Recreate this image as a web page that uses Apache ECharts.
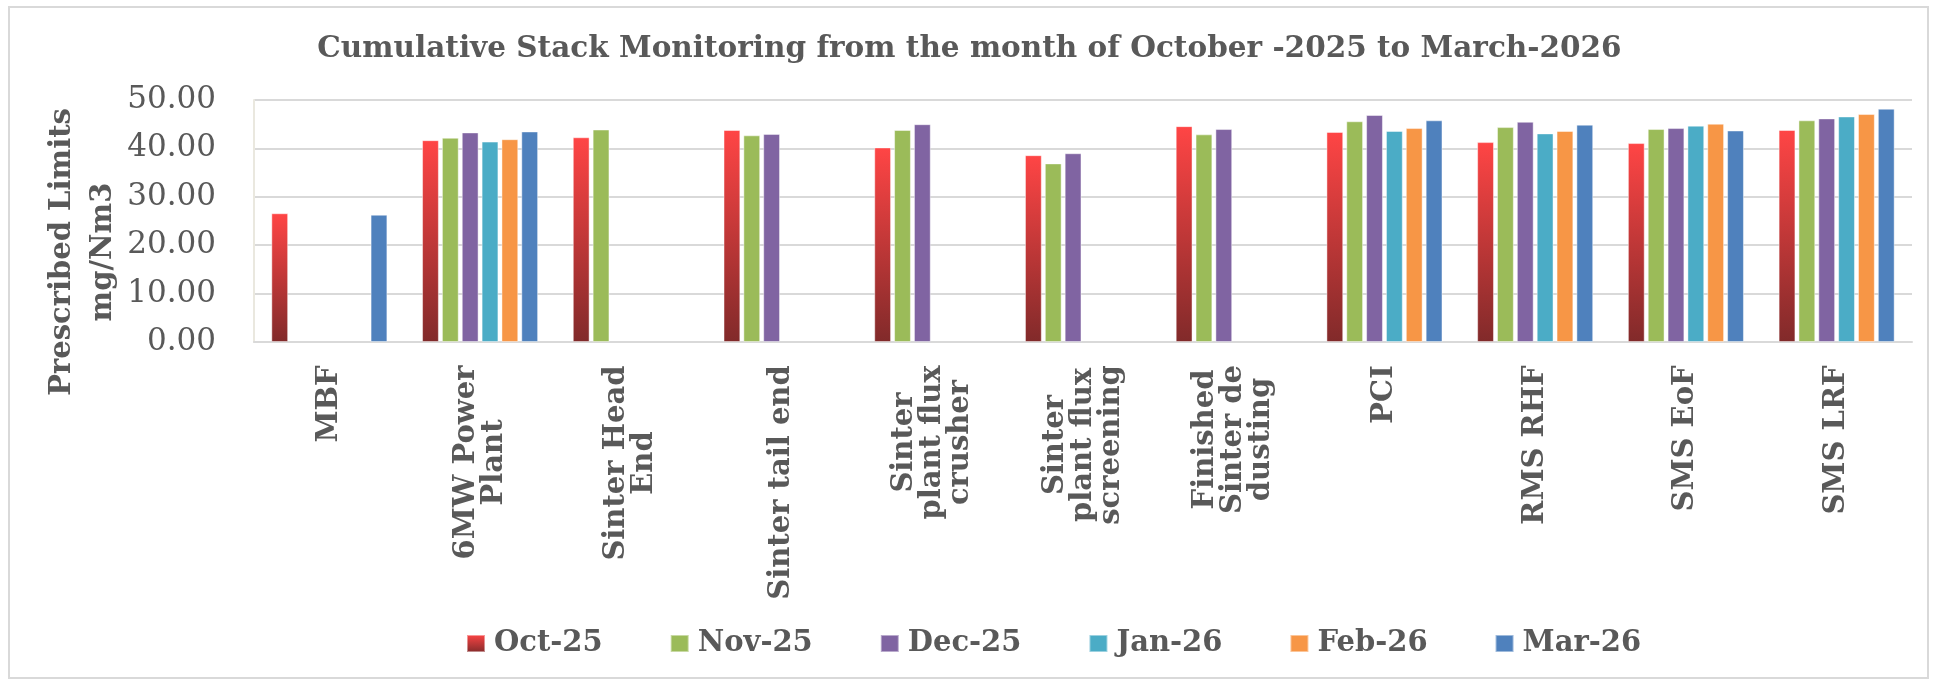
<!DOCTYPE html>
<html>
<head>
<meta charset="utf-8">
<script src="https://cdn.jsdelivr.net/npm/echarts@6/dist/echarts.min.js"></script>
<style>
html, body { margin: 0; padding: 0; background: #fff; }
#chart { width: 1939px; height: 683px; }
</style>
</head>
<body>
<div id="chart"></div>
<script>
var categories = ['MBF', '6MW Power Plant', 'Sinter Head End', 'Sinter tail end', 'Sinter plant flux crusher',
    'Sinter plant flux screening', 'Finished Sinter de dusting', 'PCI', 'RMS RHF', 'SMS EoF', 'SMS LRF']
// how the labels wrap on the axis
var categoryLabels = ['MBF', '6MW Power\nPlant', 'Sinter Head\nEnd', 'Sinter tail end', 'Sinter\nplant flux\ncrusher',
    'Sinter\nplant flux\nscreening', 'Finished\nSinter de\ndusting', 'PCI', 'RMS RHF', 'SMS EoF', 'SMS LRF']
var months = ['Oct-25', 'Nov-25', 'Dec-25', 'Jan-26', 'Feb-26', 'Mar-26']

var oct25 = [26.6, 41.7, 42.3, 43.8, 40.2, 38.6, 44.6, 43.4, 41.3, 41.1, 43.8]
var nov25 = [null, 42.2, 43.9, 42.7, 43.8, 36.9, 42.9, 45.6, 44.4, 44.0, 45.8]
var dec25 = [null, 43.3, null, 43.0, 45.0, 39.0, 44.0, 46.9, 45.5, 44.2, 46.2]
var jan26 = [null, 41.4, null, null, null, null, null, 43.6, 43.1, 44.7, 46.6]
var feb26 = [null, 41.9, null, null, null, null, null, 44.2, 43.6, 45.1, 47.1]
var mar26 = [26.3, 43.5, null, null, null, null, null, 45.8, 44.9, 43.7, 48.2]

var yTicks = { min: 0, max: 50, interval: 10 }

var txt = '#595959'
var serif = '"DejaVu Serif", "Liberation Serif", serif'
var xFont = 29

// centred lines inside each rotated label, like the original
var ctx = document.createElement('canvas').getContext('2d')
ctx.font = 'bold ' + xFont + 'px ' + serif
var rich = {}
categoryLabels.forEach(function(lab, i) {
    var w = 0
    lab.split('\n').forEach(function(l) { w = Math.max(w, ctx.measureText(l).width) })
    rich['w' + i] = {
        width: Math.ceil(w) + 2, align: 'center', fontFamily: serif, fontWeight: 'bold',
        fontSize: xFont, color: txt, lineHeight: 28
    }
})

var octGradient = new echarts.graphic.LinearGradient(0, 0, 0, 1, [
    { offset: 0, color: '#FF4545' },
    { offset: 1, color: '#812A2A' }
])

var monthData = [oct25, nov25, dec25, jan26, feb26, mar26]
var monthColors = [octGradient, '#9BBB59', '#8064A2', '#4BACC6', '#F79646', '#4F81BD']

var mychart = echarts.init(document.getElementById('chart'))
mychart.setOption({
    animation: false,
    title: {
        text: 'Cumulative Stack Monitoring from the month of October -2025 to March-2026',
        left: 'center',
        top: 29,
        textStyle: { fontFamily: serif, fontWeight: 'bold', fontSize: 29.5, color: txt }
    },
    legend: {
        data: months,
        top: 629,
        left: 466,
        padding: 0,
        itemWidth: 18,
        itemHeight: 17,
        itemGap: 67,
        icon: 'rect',
        textStyle: { fontFamily: serif, fontWeight: 'bold', fontSize: 29, color: txt, padding: [0, 0, 0, 4] }
    },
    grid: { left: 254, right: 27, top: 100, bottom: 341 },
    xAxis: {
        type: 'category',
        data: categories,
        axisLine: { lineStyle: { color: '#D9D9D9', width: 2 } },
        axisTick: { show: false },
        axisLabel: {
            rotate: 90,
            interval: 0,
            margin: 22,
            formatter: function(value, i) {
                return categoryLabels[i].split('\n').map(function(l) { return '{w' + i + '|' + l + '}' }).join('\n')
            },
            rich: rich
        }
    },
    yAxis: {
        type: 'value',
        min: yTicks.min,
        max: yTicks.max,
        interval: yTicks.interval,
        name: 'Prescribed Limits\nmg/Nm3',
        nameLocation: 'middle',
        nameGap: 130,
        nameMoveOverlap: false,
        nameTextStyle: { fontFamily: serif, fontWeight: 'bold', fontSize: 29, color: txt, lineHeight: 41, padding: [0, 62, 0, 0] },
        axisLine: { show: true, lineStyle: { color: '#EAE8DF', width: 2 } },
        axisTick: { show: false },
        splitLine: { lineStyle: { color: '#D9D9D9', width: 2 } },
        axisLabel: {
            margin: 38,
            fontFamily: serif,
            fontSize: 31,
            color: txt,
            formatter: function(v) { return v.toFixed(2) }
        }
    },
    graphic: [{
        type: 'rect',
        shape: { x: 9, y: 7, width: 1919, height: 671 },
        style: { fill: 'none', stroke: '#D9D9D9', lineWidth: 2 },
        silent: true
    }],
    series: months.map(function(m, k) {
        return {
            name: m,
            type: 'bar',
            data: monthData[k],
            barGap: '18%',
            barCategoryGap: '23%',
            itemStyle: { color: monthColors[k], borderColor: 'rgba(255,255,255,0.45)', borderWidth: 1 }
        }
    })
})
</script>
</body>
</html>
